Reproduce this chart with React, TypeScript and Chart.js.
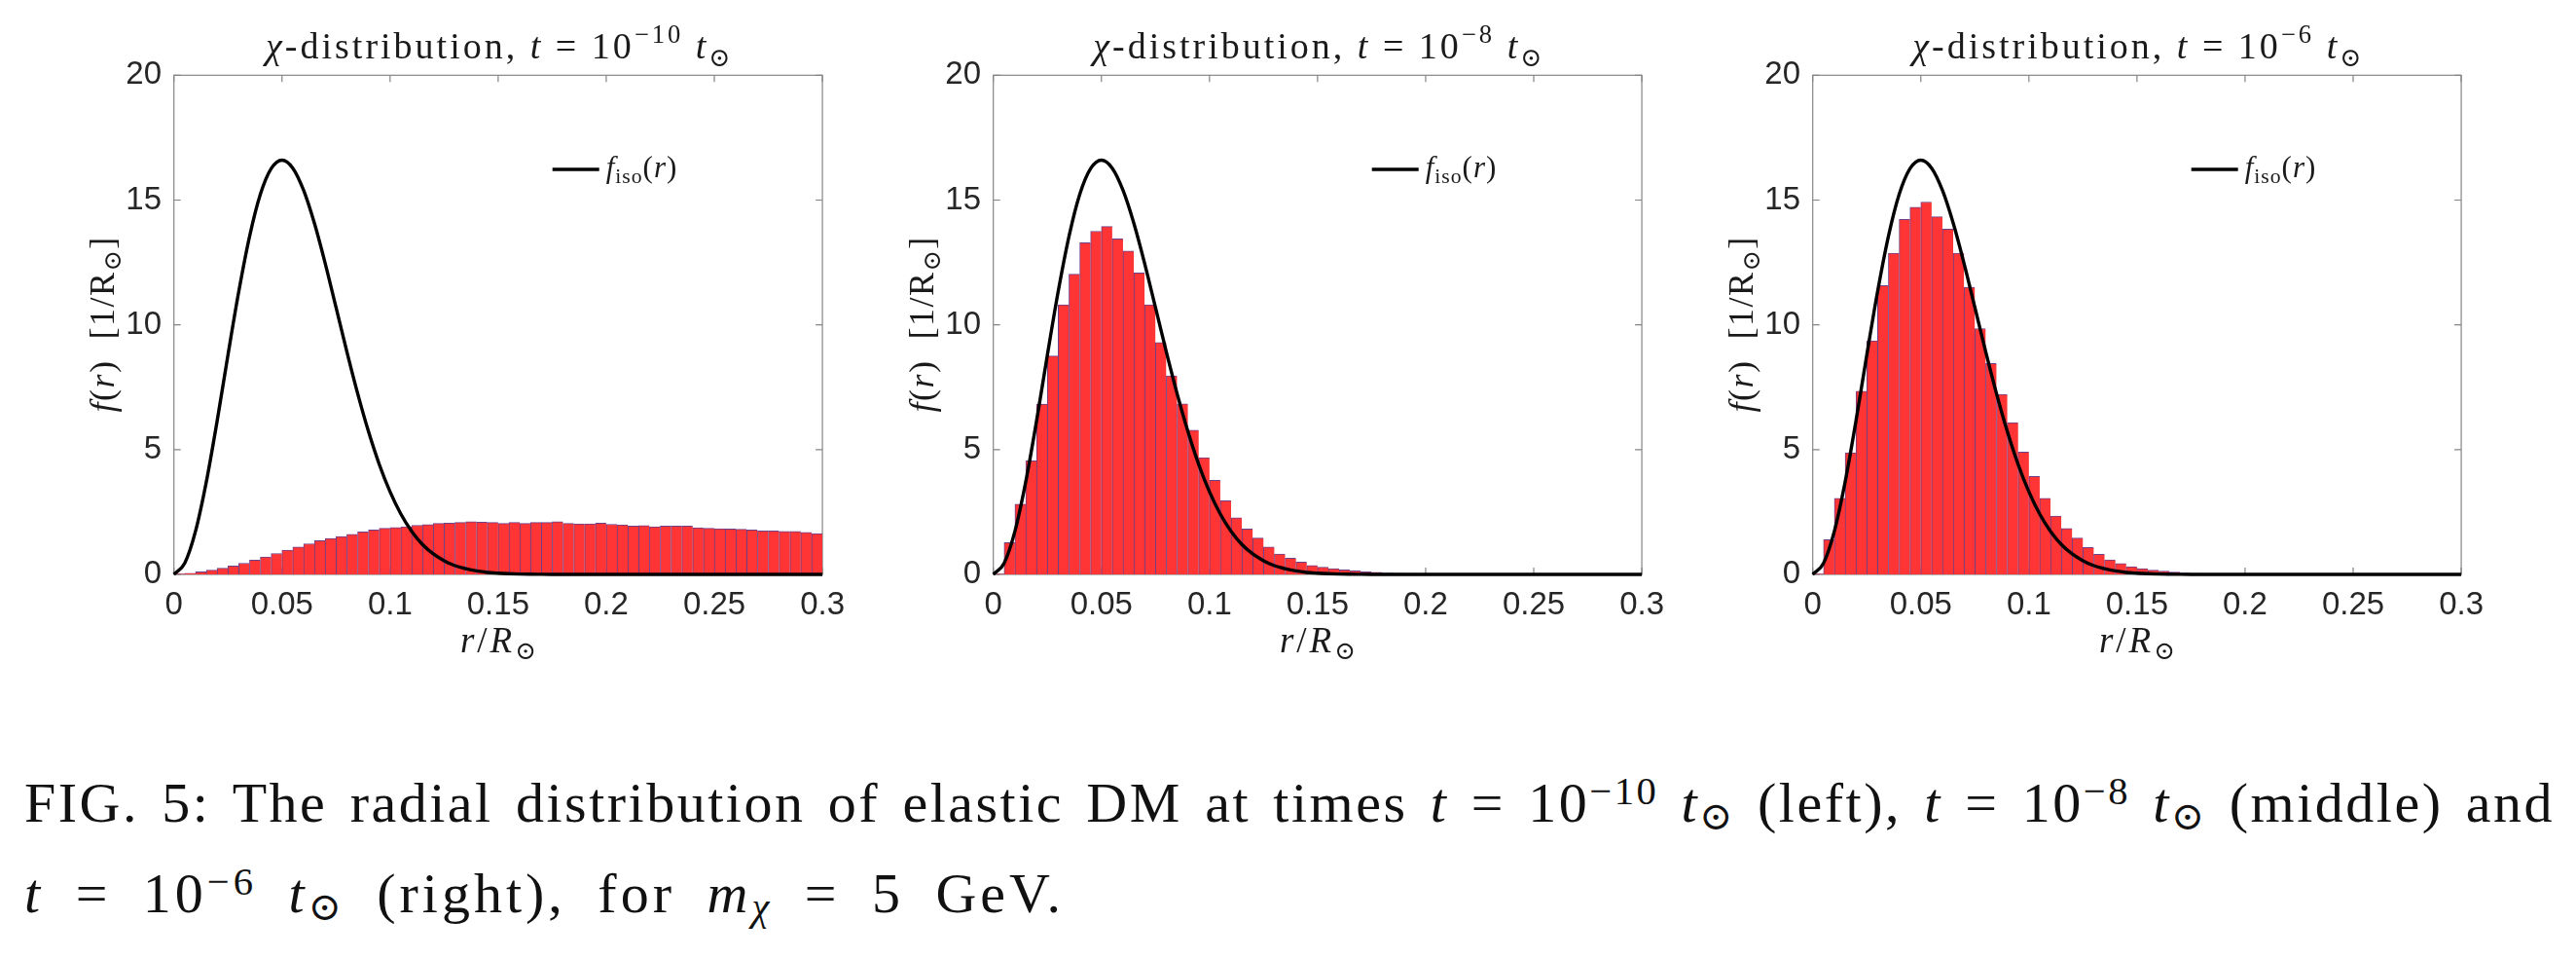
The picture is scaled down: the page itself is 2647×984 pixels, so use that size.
import React, { useEffect, useRef } from 'react';
import { Chart, registerables } from 'chart.js';

Chart.register(...registerables);

// ---------------- data ----------------
const BIN_WIDTH = 0.005; // histogram bin width in r/R_sun

const xTickLabels = ['0', '0.05', '0.1', '0.15', '0.2', '0.25', '0.3'];
const yTickLabels = ['0', '5', '10', '15', '20'];

// left panel, t = 1e-10 t_sun (60 bins, 0 .. 0.3)
const histLeft = [
  0.02, 0.05, 0.10, 0.17, 0.25, 0.34, 0.45, 0.57, 0.70, 0.84,
  0.97, 1.10, 1.23, 1.35, 1.44, 1.52, 1.61, 1.70, 1.78, 1.85,
  1.88, 1.91, 1.97, 2.00, 2.04, 2.05, 2.08, 2.11, 2.09, 2.08,
  2.04, 2.08, 2.04, 2.08, 2.08, 2.11, 2.04, 2.03, 2.03, 2.05,
  2.01, 1.99, 1.94, 1.96, 1.91, 1.94, 1.94, 1.94, 1.87, 1.85,
  1.83, 1.82, 1.81, 1.78, 1.74, 1.74, 1.72, 1.72, 1.68, 1.64,
];

// middle panel, t = 1e-8 t_sun
const histMid = [
  0.02, 1.27, 2.82, 4.55, 6.82, 8.75, 10.8, 12.03, 13.29, 13.75,
  13.94, 13.45, 12.96, 12.08, 10.8, 9.29, 7.95, 6.83, 5.78, 4.68,
  3.77, 2.95, 2.27, 1.82, 1.46, 1.10, 0.82, 0.65, 0.49, 0.36,
  0.29, 0.23, 0.18, 0.14, 0.10, 0.08, 0.06, 0.05, 0.04, 0.03,
  0.025, 0.02, 0.015, 0.01, 0.01, 0.008, 0.006, 0.005, 0.004, 0.003,
  0.002, 0.002, 0.001, 0.001, 0.001, 0, 0, 0, 0, 0,
];

// right panel, t = 1e-6 t_sun
const histRight = [
  0.02, 1.39, 3.05, 4.87, 7.34, 9.36, 11.57, 12.87, 14.23, 14.71,
  14.92, 14.33, 13.84, 12.87, 11.50, 9.85, 8.45, 7.21, 6.08, 4.90,
  3.93, 3.05, 2.34, 1.84, 1.46, 1.08, 0.81, 0.58, 0.44, 0.31,
  0.23, 0.17, 0.13, 0.09, 0.06, 0.04, 0.03, 0.02, 0.015, 0.01,
  0.008, 0.005, 0.004, 0.003, 0.002, 0.001, 0.001, 0, 0, 0,
  0, 0, 0, 0, 0, 0, 0, 0, 0, 0,
];

// f_iso(r) curve
const fIsoR = [
  0, 0.005, 0.01, 0.015, 0.02, 0.025, 0.03, 0.035, 0.04, 0.045,
  0.05, 0.055, 0.06, 0.065, 0.07, 0.075, 0.08, 0.085, 0.09, 0.095,
  0.1, 0.105, 0.11, 0.115, 0.12, 0.125, 0.13, 0.135, 0.14, 0.145,
  0.15, 0.155, 0.16, 0.165, 0.17, 0.175, 0.18, 0.185, 0.19, 0.195,
  0.2, 0.25, 0.3,
];
const fIsoVals = [
  0, 0.45, 1.73, 3.71, 6.15, 8.79, 11.33, 13.54, 15.23, 16.26,
  16.6, 16.28, 15.39, 14.07, 12.46, 10.70, 8.93, 7.25, 5.73, 4.41,
  3.31, 2.42, 1.73, 1.20, 0.82, 0.55, 0.35, 0.23, 0.14, 0.08,
  0.05, 0.03, 0.016, 0.009, 0.005, 0.002, 0.001, 0, 0, 0,
  0, 0, 0,
];

const panelExponents = ['−10', '−8', '−6'];

// ---------------- layout ----------------
const CANVAS_W = 880;
const CANVAS_H = 700;
const AREA_LEFT = 178.7;
const AREA_TOP = 77.3;
const AREA_RIGHT_PAD = CANVAS_W - 874.7;
const XAXIS_H = CANVAS_H - 590;
const PANEL_OFFSETS = [0, 842.3, 1683.8];

const SERIF = '"Liberation Serif", "DejaVu Serif", serif';
const SANS = '"Liberation Sans", Arial, Helvetica, sans-serif';

type Seg = { t: string; it?: boolean; sub?: boolean; sup?: boolean };

function drawRich(
  ctx: CanvasRenderingContext2D,
  segs: Seg[],
  x: number,
  y: number,
  size: number,
  align: 'center' | 'left',
  tracking = 0
) {
  const parts = segs.map((s) => {
    const sz = s.sub || s.sup ? size * 0.7 : size;
    const font = `${s.it ? 'italic ' : ''}${sz}px ${SERIF}`;
    ctx.font = font;
    let w = 0;
    for (const ch of Array.from(s.t)) w += ctx.measureText(ch).width + tracking;
    return { ...s, font, w };
  });
  const total = parts.reduce((a, p) => a + p.w, 0) - tracking;
  let cx = align === 'center' ? x - total / 2 : x;
  ctx.textBaseline = 'alphabetic';
  ctx.textAlign = 'left';
  for (const p of parts) {
    ctx.font = p.font;
    const dy = p.sup ? -0.42 * size : p.sub ? 0.2 * size : 0;
    for (const ch of Array.from(p.t)) {
      ctx.fillText(ch, cx, y + dy);
      cx += ctx.measureText(ch).width + tracking;
    }
  }
}

function makePlugin(exp: string) {
  return {
    id: 'matlabFrame',
    beforeDatasetsDraw(chart: any) {
      const { ctx, chartArea: a, scales } = chart;
      ctx.save();
      ctx.strokeStyle = '#858585';
      ctx.lineWidth = 1.2;
      ctx.strokeRect(a.left, a.top, a.right - a.left, a.bottom - a.top);
      const tl = 7;
      ctx.beginPath();
      xTickLabels.forEach((lab) => {
        const px = scales.x.getPixelForValue(parseFloat(lab));
        ctx.moveTo(px, a.bottom);
        ctx.lineTo(px, a.bottom - tl);
        ctx.moveTo(px, a.top);
        ctx.lineTo(px, a.top + tl);
      });
      yTickLabels.forEach((lab) => {
        const py = scales.y.getPixelForValue(parseFloat(lab));
        ctx.moveTo(a.left, py);
        ctx.lineTo(a.left + tl, py);
        ctx.moveTo(a.right, py);
        ctx.lineTo(a.right - tl, py);
      });
      ctx.stroke();
      ctx.restore();
    },
    afterDraw(chart: any) {
      const { ctx, chartArea: a } = chart;
      const cxm = (a.left + a.right) / 2;
      const cym = (a.top + a.bottom) / 2;
      ctx.save();
      ctx.fillStyle = '#1a1a1a';
      // title
      drawRich(
        ctx,
        [
          { t: 'χ', it: true },
          { t: '-distribution, ' },
          { t: 't', it: true },
          { t: ' = 10' },
          { t: exp, sup: true },
          { t: ' ' },
          { t: 't', it: true },
          { t: '⊙', sub: true },
        ],
        cxm,
        a.top - 17,
        38,
        'center',
        3
      );
      // x label
      drawRich(
        ctx,
        [{ t: 'r', it: true }, { t: '/' }, { t: 'R', it: true }, { t: '⊙', sub: true }],
        cxm,
        a.bottom + 80,
        37,
        'center',
        3
      );
      // y label (rotated)
      ctx.save();
      ctx.translate(a.left - 62, cym);
      ctx.rotate(-Math.PI / 2);
      drawRich(
        ctx,
        [
          { t: 'f', it: true },
          { t: '(' },
          { t: 'r', it: true },
          { t: ')  [1/R' },
          { t: '⊙', sub: true },
          { t: ']' },
        ],
        0,
        0,
        36,
        'center',
        1.5
      );
      ctx.restore();
      // legend
      const ly = a.top + 96.7;
      ctx.strokeStyle = '#000';
      ctx.lineWidth = 3.4;
      ctx.beginPath();
      ctx.moveTo(a.left + 389, ly);
      ctx.lineTo(a.left + 437, ly);
      ctx.stroke();
      drawRich(
        ctx,
        [{ t: 'f', it: true }, { t: 'iso', sub: true }, { t: '(' }, { t: 'r', it: true }, { t: ')' }],
        a.left + 444,
        ly + 8,
        31,
        'left',
        1
      );
      ctx.restore();
    },
  };
}

function makeConfig(hist: number[], exp: string): any {
  const fmt = (labels: string[]) => (v: number) => {
    const m = labels.find((l) => Math.abs(parseFloat(l) - v) < 1e-9);
    return m ?? '';
  };
  return {
    type: 'bar',
    data: {
      datasets: [
        {
          type: 'line',
          data: fIsoR.map((r, i) => ({ x: r, y: fIsoVals[i] })),
          borderColor: '#000',
          borderWidth: 3.4,
          pointRadius: 0,
          cubicInterpolationMode: 'monotone',
          fill: false,
          clip: false,
          order: 0,
        },
        {
          type: 'bar',
          data: hist.map((v, i) => ({ x: (i + 0.5) * BIN_WIDTH, y: v })),
          backgroundColor: '#ff3434',
          borderColor: '#6e4088',
          borderWidth: { left: 1, top: 1, right: 0, bottom: 0 },
          borderSkipped: false,
          barPercentage: 1,
          categoryPercentage: 1,
          order: 1,
        },
      ],
    },
    options: {
      animation: false,
      responsive: false,
      maintainAspectRatio: false,
      events: [],
      layout: { padding: { top: AREA_TOP, right: AREA_RIGHT_PAD, bottom: 0, left: 0 } },
      plugins: {
        legend: { display: false },
        tooltip: { enabled: false },
        title: { display: false },
      },
      scales: {
        x: {
          type: 'linear',
          min: 0,
          max: 0.3,
          offset: false,
          grid: { display: false, drawTicks: false },
          border: { display: false },
          ticks: {
            stepSize: 0.05,
            padding: 12,
            maxRotation: 0,
            autoSkip: false,
            color: '#262626',
            font: { family: SANS, size: 33 },
            callback: fmt(xTickLabels),
          },
          afterFit: (s: any) => {
            s.height = XAXIS_H;
          },
        },
        y: {
          type: 'linear',
          min: 0,
          max: 20,
          grid: { display: false, drawTicks: false },
          border: { display: false },
          ticks: {
            stepSize: 5,
            padding: 12.7,
            color: '#262626',
            font: { family: SANS, size: 33 },
            callback: fmt(yTickLabels),
          },
          afterFit: (s: any) => {
            s.width = AREA_LEFT;
          },
        },
      },
    },
    plugins: [makePlugin(exp)],
  };
}

function Panel({ hist, exp, left }: { hist: number[]; exp: string; left: number }) {
  const ref = useRef<HTMLCanvasElement | null>(null);
  useEffect(() => {
    if (!ref.current) return;
    const chart = new Chart(ref.current, makeConfig(hist, exp));
    return () => chart.destroy();
  }, [hist, exp]);
  return (
    <canvas
      ref={ref}
      width={CANVAS_W}
      height={CANVAS_H}
      style={{ position: 'absolute', left, top: 0, width: CANVAS_W, height: CANVAS_H }}
    />
  );
}

export default function App() {
  const hists = [histLeft, histMid, histRight];
  const capStyle: React.CSSProperties = {
    position: 'absolute',
    left: 25,
    width: 2600,
    fontFamily: SERIF,
    fontSize: 58,
    lineHeight: '58px',
    letterSpacing: '2.5px',
    color: '#111',
    whiteSpace: 'nowrap',
  };
  const sup: React.CSSProperties = { fontSize: '0.7em', verticalAlign: '0.45em', lineHeight: 0 };
  const sub: React.CSSProperties = { fontSize: '0.7em', verticalAlign: '-0.2em', lineHeight: 0 };
  return (
    <div
      style={{
        position: 'absolute',
        left: 0,
        top: 0,
        width: 2647,
        height: 984,
        background: '#fff',
        overflow: 'hidden',
      }}
    >
      {hists.map((h, i) => (
        <Panel key={i} hist={h} exp={panelExponents[i]} left={PANEL_OFFSETS[i]} />
      ))}
      <div
        style={{
          ...capStyle,
          top: 796,
          textAlign: 'justify',
          textAlignLast: 'justify',
          whiteSpace: 'normal',
        }}
      >
        FIG. 5: The radial distribution of elastic DM at times <i>t</i> = 10
        <span style={sup}>−10</span> <i>t</i>
        <span style={sub}>⊙</span> (left), <i>t</i> = 10<span style={sup}>−8</span> <i>t</i>
        <span style={sub}>⊙</span> (middle) and
      </div>
      <div style={{ ...capStyle, top: 889, letterSpacing: '4px', wordSpacing: '14px' }}>
        <i>t</i> = 10<span style={sup}>−6</span> <i>t</i>
        <span style={sub}>⊙</span> (right), for <i>m</i>
        <span style={sub}>
          <i>χ</i>
        </span>{' '}
        = 5 GeV.
      </div>
    </div>
  );
}
